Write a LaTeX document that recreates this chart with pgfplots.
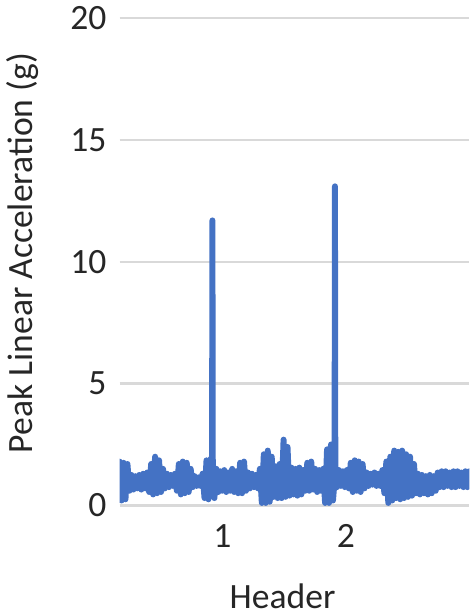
\documentclass[border=0pt]{standalone}
\usepackage{fontspec}
\setmainfont{Carlito}
\usepackage{pgfplots}
\usepackage{pgfplotstable}
\pgfplotsset{compat=1.18}
\definecolor{exblue}{HTML}{4472C4}
\definecolor{gridgray}{HTML}{D9D9D9}
\definecolor{txt}{HTML}{262626}
\pgfplotstableread{
i y
0 1.8
1 0.2
2 1.75
3 0.25
4 1.7
5 0.6
6 1.25
7 0.65
8 1.2
9 0.7
10 1.25
11 0.65
12 1.3
13 0.7
14 1.35
15 0.55
16 1.7
17 0.45
18 2.0
19 0.5
20 1.85
21 0.55
22 1.5
23 0.7
24 1.3
25 0.75
26 1.25
27 0.8
28 1.3
29 0.6
30 1.7
31 0.45
32 1.8
33 0.5
34 1.75
35 0.55
36 1.5
37 0.75
38 1.2
39 0.8
40 1.15
41 0.8
42 1.3
43 0.3
44 1.85
45 0.25
46 1.9
46.8 1.0
47 11.7
47.2 1.0
48 0.3
49 1.5
50 0.55
51 1.4
52 0.6
53 1.45
54 0.55
55 1.35
56 0.6
57 1.5
58 0.55
59 1.4
60 0.5
61 1.75
62 0.5
63 1.8
64 0.6
65 1.35
66 0.7
67 1.3
68 0.75
69 1.25
70 0.7
71 1.5
72 0.1
73 2.1
74 0.1
75 2.25
76 0.15
77 2.0
78 0.35
79 1.6
80 0.3
81 1.7
82 0.3
83 2.7
84 0.35
85 2.4
86 0.4
87 1.55
88 0.45
89 1.5
90 0.4
91 1.55
92 0.45
93 1.45
94 0.6
95 1.75
96 0.6
97 1.8
98 0.65
99 1.5
100 0.55
101 1.45
102 0.6
103 1.5
104 0.1
105 2.3
106 0.1
107 2.5
108 0.2
108.8 1.0
109 13.1
109.2 1.0
110 0.75
111 1.45
112 0.8
113 1.4
114 0.75
115 1.45
116 0.7
117 1.75
118 0.55
119 1.85
120 0.6
121 1.8
122 0.55
123 1.7
124 0.7
125 1.35
126 0.8
127 1.3
128 0.85
129 1.35
130 0.8
131 1.3
132 0.8
133 1.45
134 0.5
135 1.8
136 0.1
137 2.0
138 0.2
139 2.25
140 0.3
141 2.2
142 0.25
143 2.25
144 0.3
145 2.1
146 0.35
147 2.0
148 0.4
149 1.7
150 0.5
151 1.3
152 0.45
153 1.25
154 0.5
155 1.2
156 0.45
157 1.25
158 0.5
159 1.2
160 0.6
161 1.35
162 0.75
163 1.4
164 0.75
165 1.4
166 0.8
167 1.35
168 0.75
169 1.4
170 0.75
171 1.4
172 0.8
173 1.35
174 0.75
175 1.4
176 0.75
177 1.4
}\sig
\begin{document}
\begin{tikzpicture}
\begin{axis}[
  scale only axis,
  width=177pt, height=246.5pt,
  xmin=0, xmax=177, ymin=0, ymax=20,
  ytick={0,5,10,15,20},
  xtick={52,114.5}, xticklabels={1,2},
  axis x line=bottom, axis y line=left,
  x axis line style={draw=gridgray, line width=1.2pt, -},
  y axis line style={draw=none},
  tick style={draw=none},
  ymajorgrids, grid style={gridgray, line width=1.2pt},
  /pgf/number format/assume math mode=true,
  every tick label/.append style={font=\fontsize{18}{21}\selectfont, text=txt},
  yticklabel style={anchor=east, xshift=-1pt},
  xticklabel style={anchor=north, yshift=-4pt},
  xlabel={Header},
  ylabel={Peak Linear Acceleration (g)},
  label style={font=\fontsize{18}{21}\selectfont, text=txt},
  xlabel style={at={(axis description cs:0.466,0)}, anchor=base, yshift=-52pt},
  ylabel style={at={(axis description cs:-0.277,0.518)}, anchor=center},
]
\addplot[exblue, line width=3pt, line join=round, line cap=round] table[x=i, y=y] {\sig};
\end{axis}
\end{tikzpicture}
\end{document}
